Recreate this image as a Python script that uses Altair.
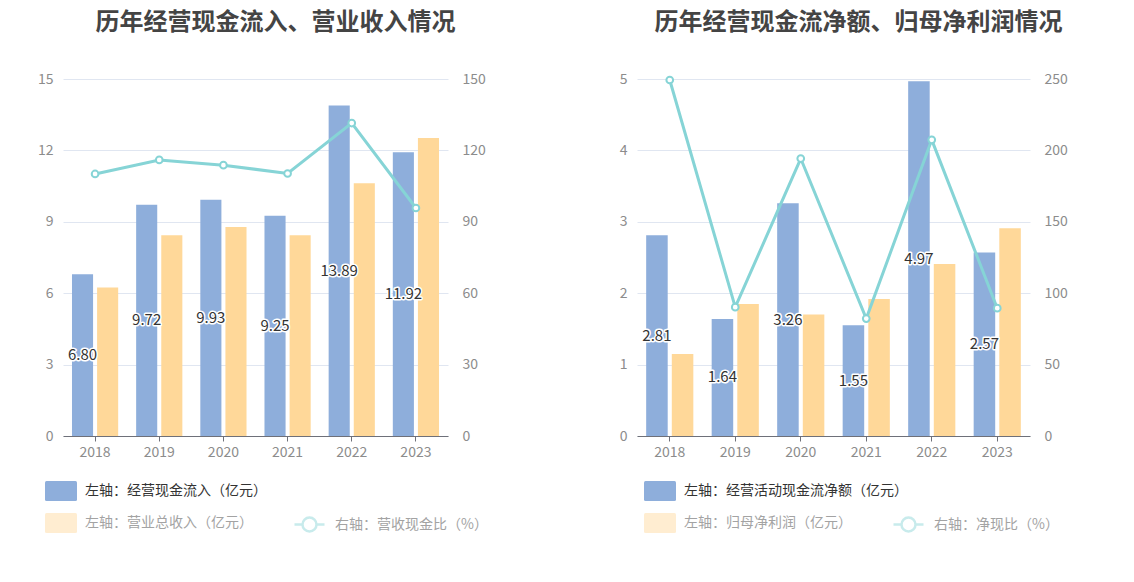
import altair as alt
import pandas as pd

years = ["2018", "2019", "2020", "2021", "2022", "2023"]

# left panel
inflow = [6.80, 9.72, 9.93, 9.25, 13.89, 11.92]
revenue = [6.24, 8.44, 8.78, 8.44, 10.62, 12.52]
cash_ratio = [110.1, 116.0, 113.8, 110.3, 131.5, 95.8]

# right panel
net_cf = [2.81, 1.64, 3.26, 1.55, 4.97, 2.57]
net_profit = [1.15, 1.85, 1.70, 1.92, 2.41, 2.91]
net_ratio = [249.3, 90.2, 194.3, 82.2, 207.4, 89.5]

FONT = "Noto Sans CJK SC"
BLUE = "#8eaedb"
ORANGE = "#ffd899"
TEAL = "#86d4d6"
GRID = "#e0e6f1"
LABEL = "#8c8c8c"

SWATCH = "M-1.6,-0.85Q-1.6,-1,-1.45,-1H1.45Q1.6,-1,1.6,-0.85V0.85Q1.6,1,1.45,1H-1.45Q-1.6,1,-1.6,0.85Z"
LINEICON = "M-1.5,0H-0.7M0.7,0H1.5M-0.7,0A0.7,0.7,0,1,1,0.7,0A0.7,0.7,0,1,1,-0.7,0"


def panel(title, n1, n2, nl, v1, v2, vl, lmax, lstep, rmax, rstep, width, title_dx,
          lpad, leg_x, line_leg_x):
    bars = pd.DataFrame({"year": years * 2, "series": [n1] * 6 + [n2] * 6, "value": v1 + v2})
    labels = pd.DataFrame({"year": years, "series": [n1] * 6, "value": v1})
    line = pd.DataFrame({"year": years, "series": [nl] * 6, "ratio": vl})

    x = alt.X("year:N", title=None,
              scale=alt.Scale(paddingInner=0.28, paddingOuter=0.14),
              axis=alt.Axis(labelAngle=0, domainColor="#6E7079", tickColor="#6E7079",
                            tickSize=5, labelColor=LABEL, labelFontSize=14, labelFont=FONT,
                            labelPadding=4, grid=False))
    xo = alt.XOffset("series:N", scale=alt.Scale(domain=[n1, n2], paddingInner=0.16))
    yscale = alt.Scale(domain=[0, lmax], nice=False, zero=True)
    yaxis = alt.Axis(values=list(range(0, lmax + 1, lstep)), orient="left", title=None,
                     domain=False, ticks=False, labelColor=LABEL, labelFontSize=14,
                     labelFont=FONT, labelPadding=lpad, gridColor=GRID, grid=True)

    bar = alt.Chart(bars).mark_bar().encode(
        x=x, xOffset=xo,
        y=alt.Y("value:Q", scale=yscale, axis=yaxis, title=None),
        fill=alt.Fill("series:N", scale=alt.Scale(domain=[n1, n2], range=[BLUE, ORANGE]),
                      legend=alt.Legend(
                          title=None, orient="none", legendX=leg_x, legendY=402,
                          direction="vertical", padding=0, symbolType=SWATCH,
                          symbolSize=400, symbolStrokeWidth=0, labelFont=FONT,
                          labelFontSize=14, labelOffset=14, rowPadding=12,
                          labelLimit=400,
                          labelColor=alt.ExprRef(expr=f"datum.value === '{n1}' ? '#333333' : '#a3a3a3'"),
                          symbolOpacity=alt.ExprRef(expr=f"datum.value === '{n1}' ? 1 : 0.45"),
                      )),
    )

    base_t = alt.Chart(labels).transform_calculate(mid="datum.value / 2")
    enc = dict(x=x, xOffset=xo,
               y=alt.Y("mid:Q", scale=yscale, axis=yaxis, title=None),
               text=alt.Text("value:Q", format=".2f"))
    halo = base_t.mark_text(font=FONT, fontSize=15, fill="white", stroke="white",
                            strokeWidth=3, strokeJoin="round").encode(**enc)
    txt = base_t.mark_text(font=FONT, fontSize=15, fill="#333333").encode(**enc)

    left = alt.layer(bar, halo, txt)

    ry = alt.Y("ratio:Q", scale=alt.Scale(domain=[0, rmax], nice=False),
               axis=alt.Axis(values=list(range(0, rmax + 1, rstep)), orient="right",
                             title=None, domain=False, ticks=False, grid=False,
                             labelColor=LABEL, labelFontSize=14, labelFont=FONT,
                             labelPadding=14))
    stroke = alt.Stroke("series:N", scale=alt.Scale(domain=[nl], range=[TEAL]),
                        legend=alt.Legend(
                            title=None, orient="none", legendX=line_leg_x, legendY=434,
                            padding=0, symbolType=LINEICON, symbolSize=400,
                            symbolStrokeWidth=2.5, symbolFillColor="white",
                            symbolOpacity=0.45, labelFont=FONT, labelFontSize=14,
                            labelOffset=14, labelColor="#a3a3a3", labelLimit=400))
    ln = alt.Chart(line).mark_line(strokeWidth=3).encode(x=x, y=ry, stroke=stroke)
    pts = alt.Chart(line).mark_point(shape="circle", filled=False, fill="white",
                                     fillOpacity=1, size=45, strokeWidth=2,
                                     opacity=1).encode(x=x, y=ry, stroke=stroke)
    right = alt.layer(ln, pts)

    return alt.layer(left, right).resolve_scale(y="independent").properties(
        width=width, height=357,
        title=alt.TitleParams(title, font=FONT, fontSize=24, fontWeight="bold",
                              color="#444444", anchor="middle", dx=title_dx, offset=37),
    )


p1 = panel("历年经营现金流入、营业收入情况",
           "左轴：经营现金流入（亿元）", "左轴：营业总收入（亿元）", "右轴：营收现金比（%）",
           inflow, revenue, cash_ratio, 15, 3, 150, 30, 385, 20, 10, -12, 235)
p2 = panel("历年经营现金流净额、归母净利润情况",
           "左轴：经营活动现金流净额（亿元）", "左轴：归母净利润（亿元）", "右轴：净现比（%）",
           net_cf, net_profit, net_ratio, 5, 1, 250, 50, 393, 25, 10, 13, 260)

chart = alt.hconcat(p1, p2, spacing=131).resolve_scale(
    fill="independent", stroke="independent", xOffset="independent"
).resolve_legend(fill="independent", stroke="independent").properties(
    padding={"left": 29, "top": 3, "right": 5, "bottom": 5}
).configure(background="white").configure_view(stroke=None)

chart.save("out.html", embed_options={"renderer": "svg", "actions": False})
